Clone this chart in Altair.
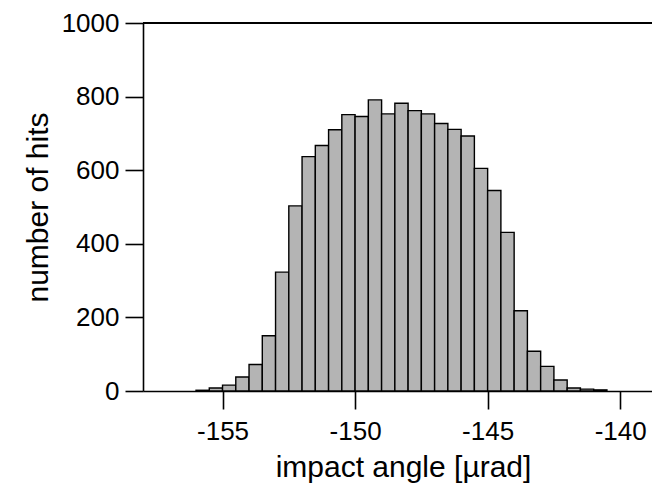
import altair as alt
import pandas as pd

# histogram bins (left edges, bin width 0.5 µrad) and counts
bin_start = [-156.0, -155.5, -155.0, -154.5, -154.0, -153.5, -153.0, -152.5,
             -152.0, -151.5, -151.0, -150.5, -150.0, -149.5, -149.0, -148.5,
             -148.0, -147.5, -147.0, -146.5, -146.0, -145.5, -145.0, -144.5,
             -144.0, -143.5, -143.0, -142.5, -142.0, -141.5, -141.0]
counts = [2, 8, 16, 38, 72, 150, 323, 503,
          637, 667, 710, 751, 746, 791, 753, 782,
          762, 753, 727, 711, 693, 605, 545, 431,
          218, 108, 67, 30, 8, 5, 3]
bin_width = 0.5
x_ticks = [-155, -150, -145, -140]
y_ticks = [0, 200, 400, 600, 800, 1000]

df = pd.DataFrame({
    "start": bin_start,
    "end": [b + bin_width for b in bin_start],
    "count": counts,
})

FONT = "Liberation Sans"

x_scale = alt.Scale(domain=[-158, -138.8], nice=False, zero=False)
y_scale = alt.Scale(domain=[0, 1000], nice=False)

common_axis = dict(grid=False, tickSize=18, tickWidth=1.6, tickColor="black",
                   domainColor="black", domainWidth=1.6, labelFont=FONT,
                   labelFontSize=26, labelColor="black", titleFont=FONT,
                   titleFontSize=30, titleFontWeight="normal",
                   titleColor="black", labelFlush=False,
                   labelExpr="'' + datum.value")

bars = alt.Chart(df).mark_rect(
    fill="#b4b4b4", stroke="black", strokeWidth=1.4
).encode(
    x=alt.X("start:Q", scale=x_scale,
            axis=alt.Axis(values=x_ticks, title="impact angle [µrad]",
                          labelPadding=9, titlePadding=8, titleX=260,
                          **common_axis)),
    x2="end:Q",
    y=alt.Y("count:Q", scale=y_scale,
            axis=alt.Axis(values=y_ticks, title="number of hits",
                          labelPadding=6, titlePadding=8, **common_axis)),
    y2=alt.datum(0),
)

top_line = alt.Chart(df).mark_rule(color="black", strokeWidth=1.6).encode(
    y=alt.datum(1000, scale=y_scale)
)

chart = alt.layer(bars, top_line).properties(
    width=509,
    height=368,
    autosize=alt.AutoSizeParams(type="none"),
    padding={"left": 135, "top": 15, "right": 0, "bottom": 93},
).configure_view(stroke=None)

chart.save("out.html", embed_options={"renderer": "svg", "actions": False})
